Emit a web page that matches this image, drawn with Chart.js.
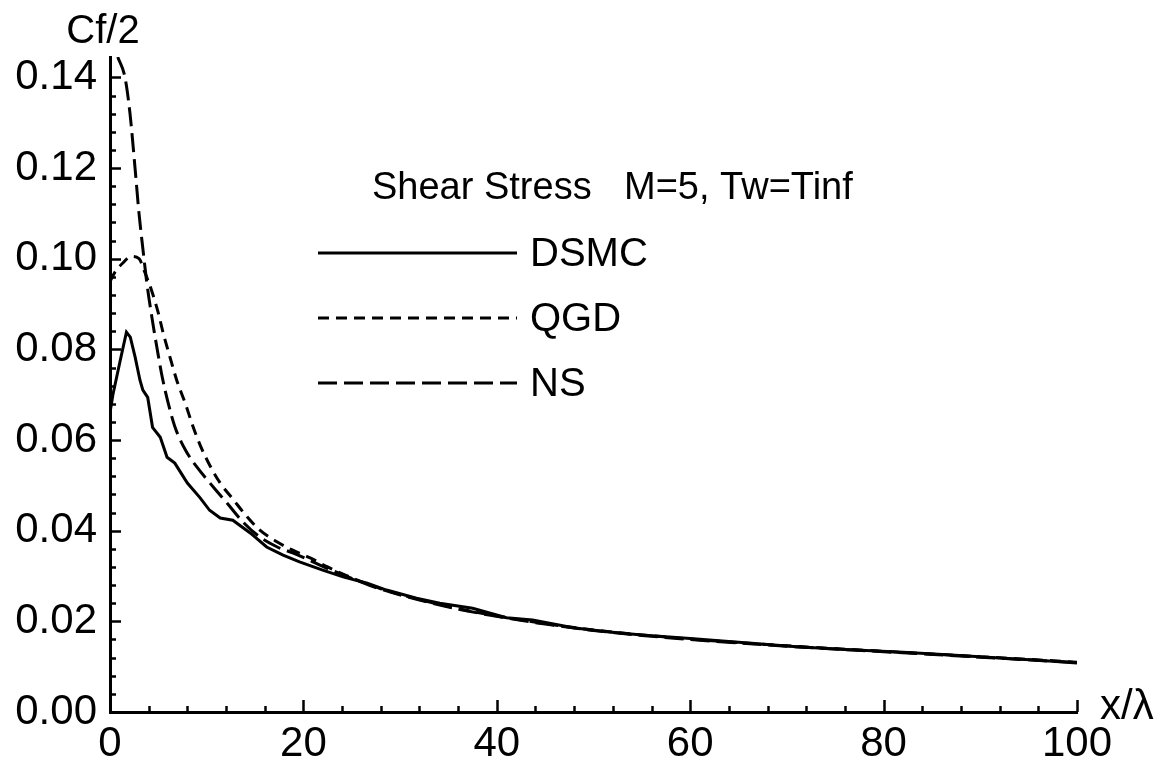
<!DOCTYPE html>
<html><head><meta charset="utf-8">
<script src="https://cdn.jsdelivr.net/npm/chart.js@4.4.1/dist/chart.umd.min.js"></script>
<style>html,body{margin:0;padding:0;background:#fff;} canvas{display:block;}</style>
</head><body>
<canvas id="c" width="1167" height="765" style="width:1167px;height:765px"></canvas>
<script>
// ---- data ----
const dsmcX = [0, 0.3, 1.0, 1.7, 2.1, 2.6, 3.1, 3.4, 3.9, 4.4, 5.2, 5.9, 6.7, 8.0, 9.3, 10.3, 11.4, 12.7, 14.5, 16.2, 17.9, 19.6, 22.0, 24.1, 26.6, 28.6, 31.7, 34.1, 37.5, 41.0, 43.7, 47.9, 51.4, 55, 60, 65, 71, 76, 82, 87, 92, 96, 100];
const dsmcY = [0.066, 0.070, 0.077, 0.0838, 0.0827, 0.0783, 0.0732, 0.0710, 0.0694, 0.0628, 0.0606, 0.0562, 0.0549, 0.0505, 0.0473, 0.0445, 0.0428, 0.0423, 0.0395, 0.0364, 0.0346, 0.0331, 0.0313, 0.0298, 0.0284, 0.0269, 0.0251, 0.0240, 0.0229, 0.0208, 0.0203, 0.0186, 0.0177, 0.0170, 0.0162, 0.0154, 0.0144, 0.0138, 0.0132, 0.0126, 0.0119, 0.0114, 0.0108];

const qgdX = [0, 0.5, 1.3, 2.2, 3.0, 3.6, 4.3, 5.0, 5.5, 6.2, 6.9, 7.8, 8.5, 9.3, 10.3, 11.4, 12.7, 14.2, 15.5, 17.3, 18.9, 20.7, 22.5, 25, 28, 32, 36, 40, 45, 50, 55, 60, 70, 80, 90, 100];
const qgdY = [0.095, 0.097, 0.099, 0.1005, 0.100, 0.097, 0.093, 0.088, 0.0836, 0.0783, 0.0732, 0.0680, 0.0635, 0.0590, 0.0545, 0.0505, 0.0470, 0.0430, 0.0401, 0.0375, 0.0357, 0.0340, 0.0320, 0.0296, 0.0272, 0.0248, 0.0228, 0.0212, 0.0195, 0.0181, 0.0170, 0.0161, 0.0146, 0.0134, 0.0122, 0.0110];

const nsX = [0.8, 1.55, 2.07, 2.59, 3.0, 3.41, 3.8, 4.3, 4.9, 5.4, 6.0, 6.7, 7.8, 9.0, 10.7, 12.1, 13.8, 15.5, 17.3, 18.9, 20.5, 22, 25, 28, 32, 36, 40, 45, 50, 55, 60, 70, 80, 90, 100];
const nsY = [0.1445, 0.140, 0.132, 0.120, 0.110, 0.102, 0.0948, 0.0875, 0.0798, 0.0739, 0.0683, 0.0630, 0.0578, 0.0540, 0.0496, 0.0461, 0.0418, 0.0386, 0.0364, 0.0351, 0.0336, 0.0321, 0.0295, 0.0271, 0.0247, 0.0227, 0.0211, 0.0194, 0.0180, 0.0169, 0.0160, 0.0145, 0.0133, 0.0121, 0.0109];

const seriesNames = ['DSMC', 'QGD', 'NS'];
const xTickValues = [0, 20, 40, 60, 80, 100];
const xTickLabels = ['0', '20', '40', '60', '80', '100'];
const yTickValues = [0, 0.02, 0.04, 0.06, 0.08, 0.10, 0.12, 0.14];
const yTickLabels = ['0.00', '0.02', '0.04', '0.06', '0.08', '0.10', '0.12', '0.14'];
const titleLeft = 'Shear Stress';
const titleRight = 'M=5, Tw=Tinf';
const yAxisTitle = 'Cf/2';
const xAxisTitle = 'x/\u03bb';

// ---- rendering ----
const FONT = '"Liberation Sans", Arial, Helvetica, sans-serif';
const toPts = (xs, ys) => xs.map((x, i) => ({x: x, y: ys[i]}));

const decor = {
  id: 'decor',
  afterDraw(chart) {
    const ctx = chart.ctx;
    const xs = chart.scales.x, ys = chart.scales.y;
    ctx.save();
    ctx.strokeStyle = '#000';
    ctx.lineWidth = 2.5;
    ctx.setLineDash([]);
    // inward ticks on y axis (major + 4 minors)
    for (let i = 0; i < yTickValues.length; i++) {
      const n = i < yTickValues.length - 1 ? 5 : 1;
      const step = i < yTickValues.length - 1 ? (yTickValues[i + 1] - yTickValues[i]) / 5 : 0;
      for (let k = 0; k < n; k++) {
        const p = Math.round(ys.getPixelForValue(yTickValues[i] + k * step)) + 0.5;
        const len = k === 0 ? 11 : 6;
        ctx.beginPath(); ctx.moveTo(xs.left, p); ctx.lineTo(xs.left + len, p); ctx.stroke();
      }
    }
    // inward ticks on x axis
    for (let i = 0; i < xTickValues.length; i++) {
      const n = i < xTickValues.length - 1 ? 5 : 1;
      const step = i < xTickValues.length - 1 ? (xTickValues[i + 1] - xTickValues[i]) / 5 : 0;
      for (let k = 0; k < n; k++) {
        const p = Math.round(xs.getPixelForValue(xTickValues[i] + k * step)) + 0.5;
        const len = k === 0 ? 12 : 6;
        ctx.beginPath(); ctx.moveTo(p, ys.bottom); ctx.lineTo(p, ys.bottom - len); ctx.stroke();
      }
    }
    // legend
    const ly = [253, 318, 383];
    chart.data.datasets.forEach((ds, i) => {
      ctx.lineWidth = 3;
      ctx.setLineDash(ds.borderDash || []);
      ctx.beginPath(); ctx.moveTo(318, ly[i]); ctx.lineTo(517, ly[i]); ctx.stroke();
      ctx.setLineDash([]);
      ctx.fillStyle = '#000';
      ctx.font = '40px ' + FONT;
      ctx.textAlign = 'left'; ctx.textBaseline = 'middle';
      ctx.fillText(ds.label, 530, ly[i] + 2);
    });
    // title
    ctx.font = '38px ' + FONT;
    ctx.textBaseline = 'alphabetic';
    ctx.fillText(titleLeft, 372, 199);
    ctx.fillText(titleRight, 624, 199);
    // axis titles
    ctx.font = '40px ' + FONT;
    ctx.textAlign = 'center';
    ctx.fillText(yAxisTitle, 103, 43);
    ctx.textAlign = 'left';
    ctx.font = '42px ' + FONT;
    ctx.fillText(xAxisTitle, 1100, 719);
    ctx.restore();
  }
};

new Chart(document.getElementById('c'), {
  type: 'line',
  data: {
    datasets: [
      {label: seriesNames[0], data: toPts(dsmcX, dsmcY), borderColor: '#000', borderWidth: 3, pointRadius: 0, tension: 0, fill: false},
      {label: seriesNames[1], data: toPts(qgdX, qgdY), borderColor: '#000', borderWidth: 3, borderDash: [11, 7], pointRadius: 0, cubicInterpolationMode: 'monotone', fill: false},
      {label: seriesNames[2], data: toPts(nsX, nsY), borderColor: '#000', borderWidth: 3, borderDash: [19, 7], pointRadius: 0, cubicInterpolationMode: 'monotone', fill: false}
    ]
  },
  options: {
    responsive: false,
    animation: false,
    events: [],
    layout: {padding: {left: 0, right: 90, top: 57, bottom: 0}},
    plugins: {legend: {display: false}, tooltip: {enabled: false}, title: {display: false}},
    scales: {
      x: {
        type: 'linear', min: 0, max: 100,
        grid: {display: false, drawTicks: false, tickLength: 0},
        border: {display: true, color: '#000', width: 3},
        afterBuildTicks: (a) => { a.ticks = xTickValues.map(v => ({value: v})); },
        afterFit: (a) => { a.height = 53; },
        ticks: {autoSkip: false, maxRotation: 0, padding: 7, color: '#000', font: {family: FONT, size: 42},
          callback: (v, i) => xTickLabels[i]}
      },
      y: {
        type: 'linear', min: 0, max: 0.1445,
        grid: {display: false, drawTicks: false, tickLength: 0},
        border: {display: true, color: '#000', width: 3},
        afterBuildTicks: (a) => { a.ticks = yTickValues.map(v => ({value: v})); },
        afterFit: (a) => { a.width = 110; },
        ticks: {autoSkip: false, padding: 13, color: '#000', font: {family: FONT, size: 42},
          callback: (v, i) => yTickLabels[i]}
      }
    }
  },
  plugins: [decor]
});
</script>
</body></html>
